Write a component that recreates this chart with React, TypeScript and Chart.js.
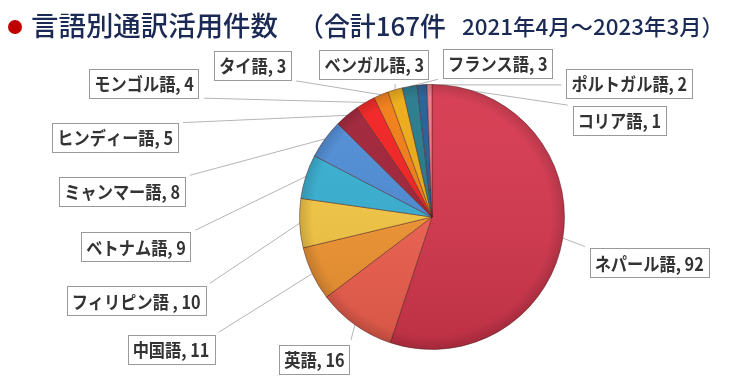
import React, { useEffect, useRef } from 'react';
import { Chart, registerables } from 'chart.js';

Chart.register(...registerables);

// ---- data ----
const languages = [
  'ネパール語', '英語', '中国語', 'フィリピン語 ', 'ベトナム語', 'ミャンマー語', 'ヒンディー語',
  'モンゴル語', 'タイ語', 'ベンガル語', 'フランス語', 'ポルトガル語', 'コリア語',
];
const counts = [92, 16, 11, 10, 9, 8, 5, 4, 3, 3, 3, 2, 1];
const titleMain = '言語別通訳活用件数';
const titleTotal = '（合計167件';
const titlePeriod = '2021年4月～2023年3月）';

// ---- styles ----
const sliceColors = [
  '#D6364D', '#F2604E', '#F39530', '#F7C842', '#35AFD3', '#4C8BD6', '#A01F35',
  '#F21E1E', '#F27B12', '#EDAA12', '#22788A', '#225A95', '#E87A86',
];
// label box centre offsets from pie centre, in px for a 133px radius
const labelOffsets: [number, number][] = [
  [218, 46], [-118, 143], [-262, 133], [-297, 84], [-297, 30], [-311, -26], [-318, -80],
  [-289, -134], [-180, -152], [-58, -153], [66, -154], [198, -134], [188, -97],
];
const LABEL_FONT = 'bold 18px "Noto Sans CJK JP", sans-serif';
const LABEL_SX = 0.9;
const TITLE_COLOR = '#1B2A55';

function boxFor(ctx: any, i: number, p: any) {
  const text = `${languages[i]}, ${counts[i]}`;
  const tw = ctx.measureText(text).width * LABEL_SX;
  const k = p.outerRadius / 133;
  const cx = p.x + labelOffsets[i][0] * k;
  const cy = p.y + labelOffsets[i][1] * k;
  const w = tw + 10;
  const h = 29;
  return { text, l: cx - w / 2, r: cx + w / 2, t: cy - h / 2, b: cy + h / 2 };
}

const labelPlugin = {
  id: 'pieLabels',
  beforeDatasetsDraw(chart: any) {
    const ctx = chart.ctx;
    const meta = chart.getDatasetMeta(0);
    ctx.save();
    ctx.font = LABEL_FONT;
    meta.data.forEach((arc: any, i: number) => {
      const p = arc.getProps(['x', 'y', 'startAngle', 'endAngle', 'outerRadius'], true);
      const mid = (p.startAngle + p.endAngle) / 2;
      const ax = p.x + p.outerRadius * Math.cos(mid);
      const ay = p.y + p.outerRadius * Math.sin(mid);
      const box = boxFor(ctx, i, p);
      let bx = Math.min(Math.max(ax, box.l), box.r);
      let by = Math.min(Math.max(ay, box.t), box.b);
      const dx = ax - bx, dy = ay - by;
      const d = Math.hypot(dx, dy) || 1;
      bx += (dx / d) * 5;
      by += (dy / d) * 5;
      ctx.strokeStyle = '#B4B4B4';
      ctx.lineWidth = 1;
      ctx.beginPath();
      ctx.moveTo(ax, ay);
      ctx.lineTo(bx, by);
      ctx.stroke();
    });
    ctx.restore();
  },
  afterDatasetsDraw(chart: any) {
    const ctx = chart.ctx;
    const meta = chart.getDatasetMeta(0);
    ctx.save();
    // subtle shading over the pie
    const p0 = meta.data[0].getProps(['x', 'y', 'outerRadius'], true);
    ctx.save();
    ctx.beginPath();
    ctx.arc(p0.x, p0.y, p0.outerRadius, 0, Math.PI * 2);
    ctx.clip();
    const lg = ctx.createLinearGradient(0, p0.y - p0.outerRadius, 0, p0.y + p0.outerRadius);
    lg.addColorStop(0, 'rgba(255,255,255,0.06)');
    lg.addColorStop(1, 'rgba(0,0,0,0.12)');
    ctx.fillStyle = lg;
    ctx.fillRect(p0.x - p0.outerRadius, p0.y - p0.outerRadius, p0.outerRadius * 2, p0.outerRadius * 2);
    const rg = ctx.createRadialGradient(p0.x, p0.y, p0.outerRadius * 0.9, p0.x, p0.y, p0.outerRadius);
    rg.addColorStop(0, 'rgba(0,0,0,0)');
    rg.addColorStop(1, 'rgba(0,0,0,0.14)');
    ctx.fillStyle = rg;
    ctx.fillRect(p0.x - p0.outerRadius, p0.y - p0.outerRadius, p0.outerRadius * 2, p0.outerRadius * 2);
    ctx.restore();

    ctx.font = LABEL_FONT;
    meta.data.forEach((arc: any, i: number) => {
      const p = arc.getProps(['x', 'y', 'outerRadius'], true);
      const box = boxFor(ctx, i, p);
      ctx.fillStyle = '#FFFFFF';
      ctx.fillRect(box.l, box.t, box.r - box.l, box.b - box.t);
      ctx.strokeStyle = '#9A9A9A';
      ctx.lineWidth = 1;
      ctx.strokeRect(Math.round(box.l) + 0.5, Math.round(box.t) + 0.5, Math.round(box.r - box.l), Math.round(box.b - box.t));
      ctx.fillStyle = '#333333';
      ctx.textAlign = 'center';
      ctx.textBaseline = 'middle';
      ctx.save();
      ctx.translate((box.l + box.r) / 2, (box.t + box.b) / 2 + 1);
      ctx.scale(LABEL_SX, 1);
      ctx.fillText(box.text, 0, 0);
      ctx.restore();
    });
    ctx.restore();
  },
  afterDraw(chart: any) {
    const ctx = chart.ctx;
    ctx.save();
    ctx.fillStyle = '#C00000';
    ctx.beginPath();
    ctx.arc(15, 27, 7, 0, Math.PI * 2);
    ctx.fill();
    ctx.fillStyle = TITLE_COLOR;
    ctx.textBaseline = 'middle';
    ctx.textAlign = 'left';
    const seg = (text: string, font: string, x: number, w: number, y: number) => {
      ctx.font = font;
      const m = ctx.measureText(text).width;
      ctx.save();
      ctx.translate(x, y);
      ctx.scale(w / m, 1);
      ctx.fillText(text, 0, 0);
      ctx.restore();
    };
    seg(titleMain, '500 27px "Noto Sans CJK JP", sans-serif', 31, 247, 26);
    seg(titleTotal, '500 26px "Noto Sans CJK JP", sans-serif', 298, 148, 26);
    seg(titlePeriod, '500 22px "Noto Sans CJK JP", sans-serif', 462, 262, 27);
    ctx.restore();
  },
};

export default function App() {
  const ref = useRef<HTMLCanvasElement>(null);
  useEffect(() => {
    if (!ref.current) return;
    const chart = new Chart(ref.current, {
      type: 'pie',
      data: {
        labels: languages,
        datasets: [
          {
            data: counts,
            backgroundColor: sliceColors,
            borderColor: 'rgba(70,20,20,0.45)',
            borderWidth: 1,
          },
        ],
      },
      options: {
        responsive: false,
        animation: false,
        devicePixelRatio: 1,
        layout: { padding: { left: 299, right: 171, top: 84, bottom: 32 } },
        plugins: {
          legend: { display: false },
          tooltip: { enabled: false },
          title: { display: false },
        },
      },
      plugins: [labelPlugin],
    });
    return () => chart.destroy();
  }, []);
  return (
    <div style={{ position: 'fixed', left: 0, top: 0, width: 736, height: 382, background: '#fff' }}>
      <canvas ref={ref} width={736} height={382} style={{ display: 'block', width: 736, height: 382 }} />
    </div>
  );
}
